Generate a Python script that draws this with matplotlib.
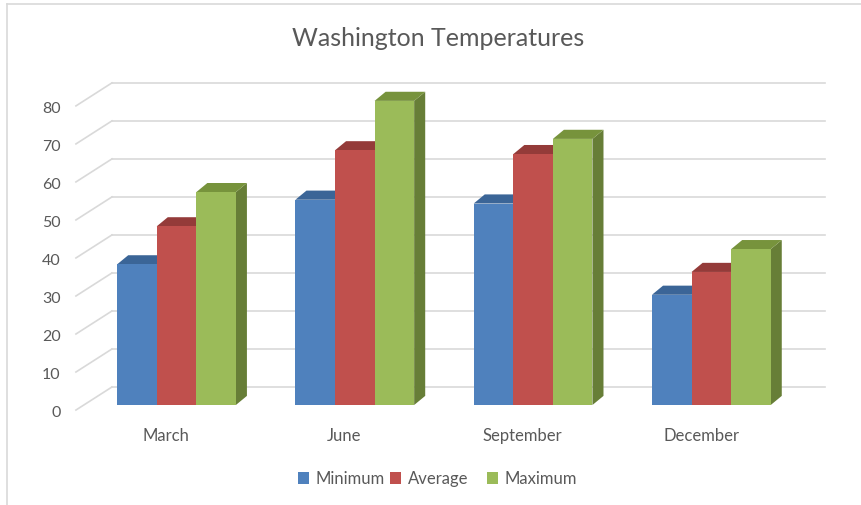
import matplotlib.pyplot as plt
from matplotlib.patches import Polygon, Rectangle

# Washington temperatures by month (deg F)
months = ["March", "June", "September", "December"]
series_names = ["Minimum", "Average", "Maximum"]
minimum = [37, 54, 53, 29]
average = [47, 67, 66, 35]
maximum = [56, 80, 70, 41]
yticks = [0, 10, 20, 30, 40, 50, 60, 70, 80]

front = ["#4F81BD", "#C0504D", "#9BBB59"]
top = ["#3B6597", "#943B39", "#77933C"]
side = ["#3A5F8C", "#8E3A38", "#677E37"]

FONT = ["Lato", "DejaVu Sans"]
TXT = "#595959"
GRID = "#D9D9D9"

# one axes spanning the figure: x in category units, y in degrees
fig = plt.figure(figsize=(8.62, 5.06), dpi=100)
ax = fig.add_axes([0, 0, 1, 1])
ax.set_xlim(-0.99, 3.845)
ax.set_ylim(-26.3, 106.8)
ax.axis("off")

bw = 0.222          # bar width
ddx, ddy = 0.062, 2.4       # bar depth offset
wall_dx, wall_dy = -0.362, 4.74   # back wall corner relative to bar base
floor_dx, floor_dy = -0.564, -1.32
wall_right = 3.637

# back wall gridlines with the diagonal side-wall strokes
for v in yticks:
    ax.plot([wall_dx, wall_right], [v + wall_dy] * 2, color=GRID, lw=1.2, zorder=1)
    ax.plot([floor_dx, wall_dx], [v + floor_dy, v + wall_dy], color=GRID, lw=1.2, zorder=1)
    ax.text(floor_dx - 0.085, v + floor_dy - 0.6, str(v), ha="right", va="center",
            fontsize=11.5, color=TXT, family=FONT)

data = [minimum, average, maximum]
for i, m in enumerate(months):
    for s in range(3):
        v = data[s][i]
        x0 = i - 1.5 * bw + s * bw
        x1 = x0 + bw
        z = 3 + i * 3 + s
        ax.add_patch(Polygon([(x1, 0), (x1 + ddx, ddy), (x1 + ddx, v + ddy), (x1, v)],
                             closed=True, facecolor=side[s], edgecolor="none", zorder=z))
        ax.add_patch(Polygon([(x0, v), (x1, v), (x1 + ddx, v + ddy), (x0 + ddx, v + ddy)],
                             closed=True, facecolor=top[s], edgecolor="none", zorder=z))
        ax.add_patch(Rectangle((x0, 0), bw, v, facecolor=front[s], edgecolor="none", zorder=z))
    ax.text(i - 0.058, -7.9, m, ha="center", va="center", fontsize=12, color=TXT, family=FONT)

ax.text(1.47, 96.6, "Washington Temperatures", ha="center", va="center",
        fontsize=18, color=TXT, family=FONT)

# legend
lx = [0.681, 1.197, 1.741]
for s, name in enumerate(series_names):
    ax.add_patch(Rectangle((lx[s], -20.65), 0.062, 2.9, facecolor=front[s], edgecolor="none"))
    ax.text(lx[s] + 0.101, -19.3, name, ha="left", va="center", fontsize=12,
            color=TXT, family=FONT)

# chart border
fig.add_artist(plt.Line2D([7 / 862, 7 / 862], [0, 1 - 5 / 506], color=GRID, lw=1.2))
fig.add_artist(plt.Line2D([7 / 862, 1], [1 - 5 / 506] * 2, color=GRID, lw=1.2))

fig.savefig("out.png", dpi=100)
